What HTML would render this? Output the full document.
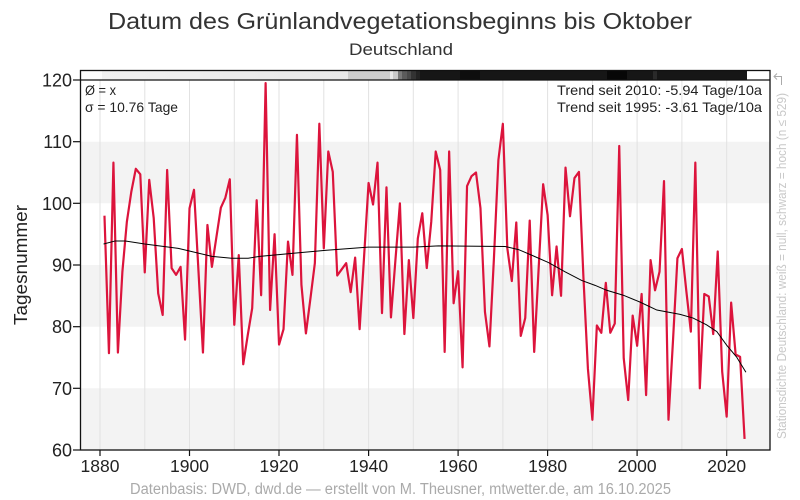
<!DOCTYPE html>
<html><head><meta charset="utf-8"><style>
html,body{margin:0;padding:0;background:#fff;}
svg{display:block;font-family:"Liberation Sans",sans-serif;}
</style></head><body>
<svg width="800" height="500" viewBox="0 0 800 500" xmlns="http://www.w3.org/2000/svg">
<rect x="0" y="0" width="800" height="500" fill="#fff"/>
<!-- bands -->
<rect x="80" y="141.7" width="690" height="61.6" fill="#f3f3f3"/>
<rect x="80" y="265" width="690" height="61.7" fill="#f3f3f3"/>
<rect x="80" y="388.3" width="690" height="61.7" fill="#f3f3f3"/>
<!-- vertical grid -->
<g stroke="#e2e2e2" stroke-width="1">
<line x1="100" y1="80" x2="100" y2="450"/><line x1="144.8" y1="80" x2="144.8" y2="450"/>
<line x1="189.5" y1="80" x2="189.5" y2="450"/><line x1="234.3" y1="80" x2="234.3" y2="450"/>
<line x1="279" y1="80" x2="279" y2="450"/><line x1="323.8" y1="80" x2="323.8" y2="450"/>
<line x1="368.6" y1="80" x2="368.6" y2="450"/><line x1="413.3" y1="80" x2="413.3" y2="450"/>
<line x1="458.1" y1="80" x2="458.1" y2="450"/><line x1="502.9" y1="80" x2="502.9" y2="450"/>
<line x1="547.6" y1="80" x2="547.6" y2="450"/><line x1="592.4" y1="80" x2="592.4" y2="450"/>
<line x1="637.1" y1="80" x2="637.1" y2="450"/><line x1="681.9" y1="80" x2="681.9" y2="450"/>
<line x1="726.7" y1="80" x2="726.7" y2="450"/>
</g>
<!-- station density bar -->
<defs><linearGradient id="lg" x1="0" x2="1" y1="0" y2="0"><stop offset="0" stop-color="#f1f1f1"/><stop offset="1" stop-color="#e8e8e8"/></linearGradient></defs>
<rect x="80" y="70.5" width="22" height="9.5" fill="#fbfbfb"/>
<rect x="102" y="70.5" width="246" height="9.5" fill="url(#lg)"/>
<rect x="348" y="70.5" width="42" height="9.5" fill="#cdcdcd"/>
<rect x="390" y="70.5" width="3" height="9.5" fill="#e8e8e8"/>
<rect x="393" y="70.5" width="5" height="9.5" fill="#cacaca"/>
<rect x="398" y="70.5" width="4" height="9.5" fill="#7a7a7a"/>
<rect x="402" y="70.5" width="5" height="9.5" fill="#5c5c5c"/>
<rect x="407" y="70.5" width="4" height="9.5" fill="#4a4a4a"/>
<rect x="411" y="70.5" width="5" height="9.5" fill="#333"/>
<rect x="416" y="70.5" width="4" height="9.5" fill="#232323"/>
<rect x="420" y="70.5" width="327" height="9.5" fill="#161616"/>
<rect x="460" y="70.5" width="20" height="9.5" fill="#0e0e0e"/>
<rect x="607" y="70.5" width="20" height="9.5" fill="#070707"/>
<rect x="653" y="70.5" width="4" height="9.5" fill="#2a2a2a"/>
<rect x="747" y="70.5" width="23" height="9.5" fill="#fff"/>
<line x1="80" y1="80" x2="770" y2="80" stroke="#111" stroke-width="1.2"/>
<!-- frame -->
<rect x="80.5" y="70.5" width="689.5" height="379.5" fill="none" stroke="#111" stroke-width="1.3"/>
<!-- ticks -->
<g stroke="#111" stroke-width="1.2">
<line x1="73" y1="80" x2="80" y2="80"/><line x1="73" y1="141.7" x2="80" y2="141.7"/>
<line x1="73" y1="203.3" x2="80" y2="203.3"/><line x1="73" y1="265" x2="80" y2="265"/>
<line x1="73" y1="326.7" x2="80" y2="326.7"/><line x1="73" y1="388.3" x2="80" y2="388.3"/>
<line x1="73" y1="450" x2="80" y2="450"/>
<line x1="100" y1="450" x2="100" y2="456"/><line x1="189.5" y1="450" x2="189.5" y2="456"/>
<line x1="279" y1="450" x2="279" y2="456"/><line x1="368.6" y1="450" x2="368.6" y2="456"/>
<line x1="458.1" y1="450" x2="458.1" y2="456"/><line x1="547.6" y1="450" x2="547.6" y2="456"/>
<line x1="637.1" y1="450" x2="637.1" y2="456"/><line x1="726.7" y1="450" x2="726.7" y2="456"/>
</g>
<!-- y tick labels -->
<g font-size="18" fill="#222" text-anchor="end">
<text x="72" y="86.5">120</text><text x="72" y="148.2">110</text><text x="72" y="209.8">100</text>
<text x="72" y="271.5">90</text><text x="72" y="333.2">80</text><text x="72" y="394.8">70</text>
<text x="72" y="456.5">60</text>
</g>
<!-- x tick labels -->
<g font-size="17.5" fill="#222" text-anchor="middle">
<text x="100" y="472">1880</text><text x="189.5" y="472">1900</text><text x="279" y="472">1920</text>
<text x="368.6" y="472">1940</text><text x="458.1" y="472">1960</text><text x="547.6" y="472">1980</text>
<text x="637.1" y="472">2000</text><text x="726.7" y="472">2020</text>
</g>
<!-- series -->
<g transform="matrix(4.4762 0 0 -6.1667 100 450)">
<polyline fill="none" stroke="#dc143c" stroke-width="2.2" stroke-linejoin="round" vector-effect="non-scaling-stroke" points="1,38 2,15.7 3,46.6 4,15.8 5,28.9 6,37 7,41.9 8,45.6 9,44.7 10,28.8 11,43.8 12,37.6 13,25.4 14,21.9 15,45.4 16,29.5 17,28.4 18,29.7 19,17.9 20,39.2 21,42.2 22,29 23,15.8 24,36.5 25,29.7 26,34.5 27,39.3 28,40.9 29,43.9 30,20.3 31,31.6 32,13.9 33,18.6 34,23 35,40.5 36,25.1 37,59.5 38,22.7 39,35 40,17.1 41,19.6 42,33.8 43,28.4 44,51.1 45,26.8 46,18.9 47,24.5 48,30.3 49,52.9 50,32.7 51,48.4 52,45.1 53,28.3 54,29.3 55,30.3 56,25.6 57,31.2 58,19.6 59,31.4 60,43.3 61,39.8 62,46.6 63,22.2 64,42.6 65,21.5 66,30.8 67,40 68,18.8 69,30.8 70,21.4 71,34.3 72,38.4 73,29.5 74,37 75,48.4 76,45.4 77,15.9 78,48.4 79,23.8 80,29 81,13.4 82,42.8 83,44.4 84,45 85,39.2 86,22.4 87,16.8 88,31 89,47 90,52.9 91,32.7 92,27.4 93,36.9 94,18.5 95,21.4 96,37.2 97,15.9 98,29.5 99,43.1 100,38.1 101,25.1 102,33 103,25 104,45.8 105,37.9 106,44.1 107,45.1 108,28 109,13.2 110,4.9 111,20.2 112,19 113,27.1 114,19 115,20.5 116,49.3 117,14.9 118,8.1 119,21.8 120,16.9 121,25.3 122,8.9 123,30.8 124,25.9 125,28.9 126,43.6 127,4.9 128,17.6 129,31.1 130,32.6 131,25.7 132,19.2 133,46.6 134,10 135,25.3 136,24.9 137,18.8 138,32.2 139,12.7 140,5.4 141,23.9 142,15.5 143,15.1 144,1.8"/>
<polyline fill="none" stroke="#000" stroke-width="1" vector-effect="non-scaling-stroke" points="0.8,33.4 3.4,33.9 5.6,33.9 10,33.4 17.5,32.7 25,31.4 29.4,31.1 33.1,31.1 35.7,31.4 43.2,31.9 50.6,32.4 59.9,32.9 70,32.9 75.6,33.1 90.5,33.0 93.5,32.5 96.4,31.6 100.2,30.4 103.9,28.9 107.6,27.5 110.6,26.7 113.2,25.9 116.9,25.1 120.6,24.0 124.4,22.7 129.6,22.0 132.5,21.4 135.5,20.3 137.8,19.2 140,17.0 142.2,15.1 144.3,12.6"/>
</g>
<!-- legends -->
<g font-size="14" fill="#222">
<text x="85" y="95" textLength="31" lengthAdjust="spacingAndGlyphs">Ø = x</text>
<text x="85" y="112" textLength="93" lengthAdjust="spacingAndGlyphs">σ = 10.76 Tage</text>
<text x="557" y="95" textLength="205" lengthAdjust="spacingAndGlyphs">Trend seit 2010: -5.94 Tage/10a</text>
<text x="557" y="112" textLength="205" lengthAdjust="spacingAndGlyphs">Trend seit 1995: -3.61 Tage/10a</text>
</g>
<!-- titles -->
<text x="400" y="29" font-size="23" fill="#333" text-anchor="middle" textLength="584" lengthAdjust="spacingAndGlyphs">Datum des Grünlandvegetationsbeginns bis Oktober</text>
<text x="401" y="55" font-size="17" fill="#333" text-anchor="middle" textLength="104" lengthAdjust="spacingAndGlyphs">Deutschland</text>
<!-- y label -->
<text transform="translate(27,265) rotate(-90)" font-size="18" fill="#222" text-anchor="middle" textLength="120" lengthAdjust="spacingAndGlyphs">Tagesnummer</text>
<!-- right vertical text -->
<text transform="translate(786,266) rotate(-90)" font-size="12.5" fill="#c8c8c8" text-anchor="middle" textLength="346" lengthAdjust="spacingAndGlyphs">Stationsdichte Deutschland: weiß = null, schwarz = hoch (n ≤ 529)</text>
<!-- arrow icon -->
<g fill="none" stroke="#aaa" stroke-width="1">
<polyline points="781.5,85 781.5,76.5 774,76.5"/>
<polyline points="777,73.5 774,76.5 777,79.5"/>
</g>
<!-- footer -->
<text x="400.5" y="494" font-size="15.5" fill="#aaa" text-anchor="middle" textLength="541" lengthAdjust="spacingAndGlyphs">Datenbasis: DWD, dwd.de — erstellt von M. Theusner, mtwetter.de, am 16.10.2025</text>
</svg>
</body></html>
